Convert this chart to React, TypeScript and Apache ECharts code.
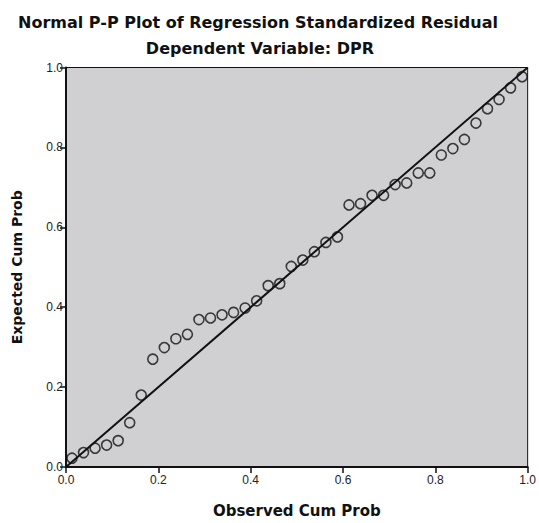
import React, { useEffect, useRef } from "react";
import * as echarts from "echarts";

const titleText = "Normal P-P Plot of Regression Standardized Residual";
const subtitleText = "Dependent Variable: DPR";
const xName = "Observed Cum Prob";
const yName = "Expected Cum Prob";

const observed = [
  0.013, 0.038, 0.063, 0.088, 0.113, 0.138, 0.163, 0.188, 0.213, 0.238,
  0.263, 0.288, 0.313, 0.338, 0.363, 0.388, 0.413, 0.438, 0.463, 0.488,
  0.513, 0.538, 0.563, 0.588, 0.613, 0.638, 0.663, 0.688, 0.713, 0.738,
  0.763, 0.788, 0.813, 0.838, 0.863, 0.888, 0.913, 0.938, 0.963, 0.988,
];
const expected = [
  0.022, 0.036, 0.047, 0.055, 0.066, 0.111, 0.180, 0.270, 0.299, 0.321,
  0.332, 0.369, 0.373, 0.381, 0.387, 0.398, 0.416, 0.454, 0.459, 0.502,
  0.518, 0.539, 0.562, 0.576, 0.656, 0.659, 0.680, 0.680, 0.707, 0.711,
  0.736, 0.736, 0.781, 0.797, 0.820, 0.861, 0.897, 0.920, 0.949, 0.977,
];
const refLine = [
  [0, 0],
  [1, 1],
];

export default function App() {
  const ref = useRef<HTMLDivElement>(null);
  useEffect(() => {
    if (!ref.current) return;
    const chart = echarts.init(ref.current, undefined, { renderer: "svg" });
    const font = "Arial, 'Liberation Sans', Helvetica, sans-serif";
    const wide = "'DejaVu Sans', Verdana, sans-serif";
    chart.setOption({
      animation: false,
      backgroundColor: "#ffffff",
      textStyle: { fontFamily: font },
      graphic: [
        {
          type: "text",
          x: 258,
          y: 22,
          style: {
            text: titleText,
            textAlign: "center",
            textVerticalAlign: "middle",
            font: `bold 16px ${wide}`,
            fill: "#111",
          },
        },
        {
          type: "text",
          x: 260,
          y: 48,
          style: {
            text: subtitleText,
            textAlign: "center",
            textVerticalAlign: "middle",
            font: `bold 16px ${wide}`,
            fill: "#111",
          },
        },
      ],
      grid: {
        left: 66,
        top: 67.5,
        right: 11,
        bottom: 49,
        show: true,
        backgroundColor: "#d0d0d3",
        borderColor: "#111",
        borderWidth: 1,
      },
      xAxis: {
        type: "value",
        min: 0,
        max: 1,
        interval: 0.2,
        name: xName,
        nameLocation: "middle",
        nameGap: 36,
        nameTextStyle: { fontWeight: "bold", fontSize: 15, fontFamily: wide, color: "#111" },
        axisLine: { show: true, onZero: false, lineStyle: { color: "#111", width: 2 } },
        axisTick: { show: true, length: 6, lineStyle: { color: "#111", width: 1.5 } },
        axisLabel: {
          color: "#222",
          fontSize: 12,
          margin: 7,
          formatter: (v: number) => v.toFixed(1),
        },
        splitLine: { show: false },
      },
      yAxis: {
        type: "value",
        min: 0,
        max: 1,
        interval: 0.2,
        name: yName,
        nameLocation: "middle",
        nameGap: 42,
        nameTextStyle: { fontWeight: "bold", fontSize: 14, fontFamily: wide, color: "#111" },
        axisLine: { show: true, onZero: false, lineStyle: { color: "#111", width: 2 } },
        axisTick: { show: true, length: 6, lineStyle: { color: "#111", width: 1.5 } },
        axisLabel: {
          color: "#222",
          fontSize: 12,
          margin: 3,
          formatter: (v: number) => v.toFixed(1),
        },
        splitLine: { show: false },
      },
      series: [
        {
          type: "line",
          data: refLine,
          symbol: "none",
          lineStyle: { color: "#111", width: 2 },
          silent: true,
          z: 2,
        },
        {
          type: "scatter",
          data: observed.map((x, i) => [x, expected[i]]),
          symbol: "circle",
          symbolSize: 10,
          itemStyle: { color: "transparent", borderColor: "#111", borderWidth: 1.6 },
          z: 3,
        },
      ],
    });
    return () => chart.dispose();
  }, []);
  return (
    <div
      ref={ref}
      style={{ position: "fixed", left: 0, top: 0, width: 539, height: 523 }}
    />
  );
}
